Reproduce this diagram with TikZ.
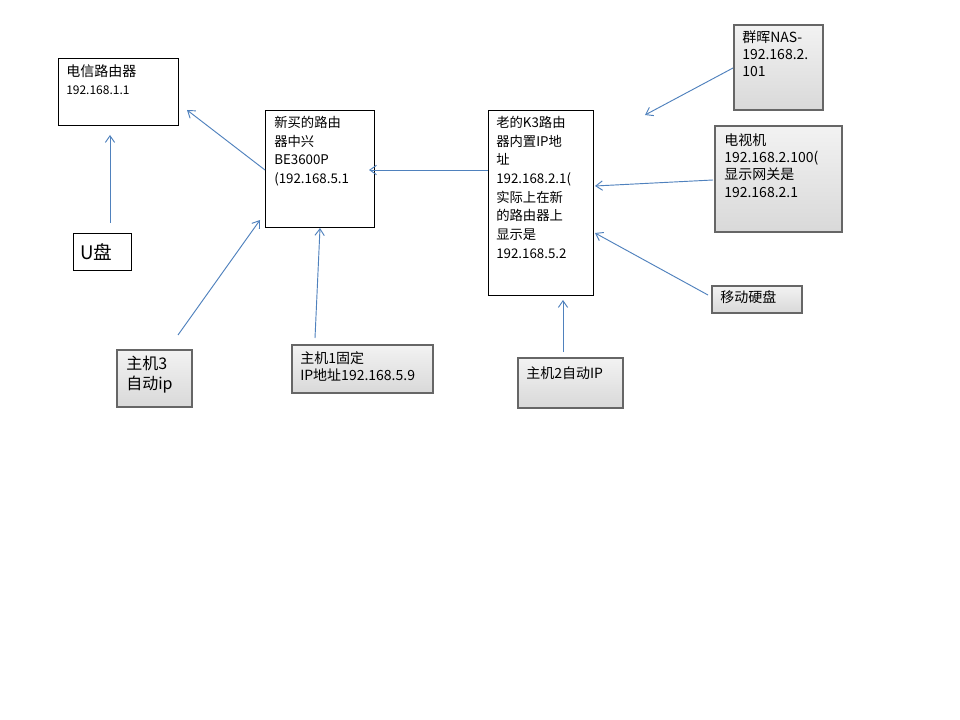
\documentclass[tikz,border=0pt]{standalone}
\usepackage{fontspec}
\setmainfont{Noto Sans CJK SC}
\usetikzlibrary{arrows.meta}
\definecolor{lnk}{RGB}{79,129,189}
\begin{document}
\begin{tikzpicture}[x=0.75pt,y=-0.75pt,
  wbox/.style={draw=black,fill=white,line width=0.6pt,inner sep=0pt},
  gbox/.style={draw=gray!80!black,line width=1.4pt,top color=gray!10,bottom color=gray!30,inner sep=0pt},
  lbl/.style={anchor=north west,align=left,font=\fontsize{10}{14}\selectfont,inner sep=0pt},
  glbl/.style={anchor=north west,align=left,font=\fontsize{10.5}{13}\selectfont,inner sep=0pt},
  conn/.style={draw=lnk,line width=0.7pt,-{Straight Barb[length=5pt,width=7pt]}}]
\useasboundingbox (0,0) rectangle (960,720);
\fill[white] (0,0) rectangle (960,720);
% boxes
\draw[wbox] (58,58) rectangle (178,125);
\node[lbl] (dx) at (66,64) {\fontsize{10.5}{13}\selectfont 电信路由器\\\fontsize{9}{11}\selectfont 192.168.1.1};
\draw[wbox] (73,233) rectangle (131,270);
\node[anchor=west,font=\fontsize{14}{16}\selectfont,inner sep=0pt] (u) at (80,252) {U盘};
\draw[wbox] (265,110) rectangle (374,227);
\node[lbl] (xm) at (274,116) {新买的路由\\器中兴\\BE3600P\\(192.168.5.1};
\draw[wbox] (488,110) rectangle (593,295);
\node[lbl] (k3) at (496,116) {老的K3路由\\器内置IP地\\址\\192.168.2.1(\\实际上在新\\的路由器上\\显示是\\192.168.5.2};
\draw[gbox] (734,25) rectangle (823,110);
\node[glbl] (nas) at (742,30) {群晖NAS-\\192.168.2.\\101};
\draw[gbox] (715,126) rectangle (842,232);
\node[glbl] (tv) at (724,133) {电视机\\192.168.2.100(\\显示网关是\\192.168.2.1};
\draw[gbox] (712,286) rectangle (802,313);
\node[glbl] (hd) at (720,290) {移动硬盘};
\draw[gbox] (117,350) rectangle (192,407);
\node[glbl,font=\fontsize{12}{15}\selectfont] (h3) at (126,356) {主机3\\自动ip};
\draw[gbox] (292,345) rectangle (433,393);
\node[glbl] (h1) at (300,351) {主机1固定\\IP地址192.168.5.9};
\draw[gbox] (518,358) rectangle (623,408);
\node[glbl] (h2) at (526,366) {主机2自动IP};
% connectors
\coordinate (a1) at (110,223); \coordinate (b1) at (110,135);
\coordinate (a2) at (265,170); \coordinate (b2) at (187,110);
\coordinate (a3) at (178,335); \coordinate (b3) at (260,220);
\coordinate (a4) at (315,338); \coordinate (b4) at (320,228);
\coordinate (a5) at (488,170); \coordinate (b5) at (369,170);
\coordinate (a6) at (563,352); \coordinate (b6) at (563,300);
\coordinate (a7) at (733,68);  \coordinate (b7) at (645,115);
\coordinate (a8) at (713,180); \coordinate (b8) at (595,186);
\coordinate (a9) at (708,295); \coordinate (b9) at (595,233);
\foreach \i in {1,...,9}{\draw[conn] (a\i) -- (b\i);}
\end{tikzpicture}
\end{document}
